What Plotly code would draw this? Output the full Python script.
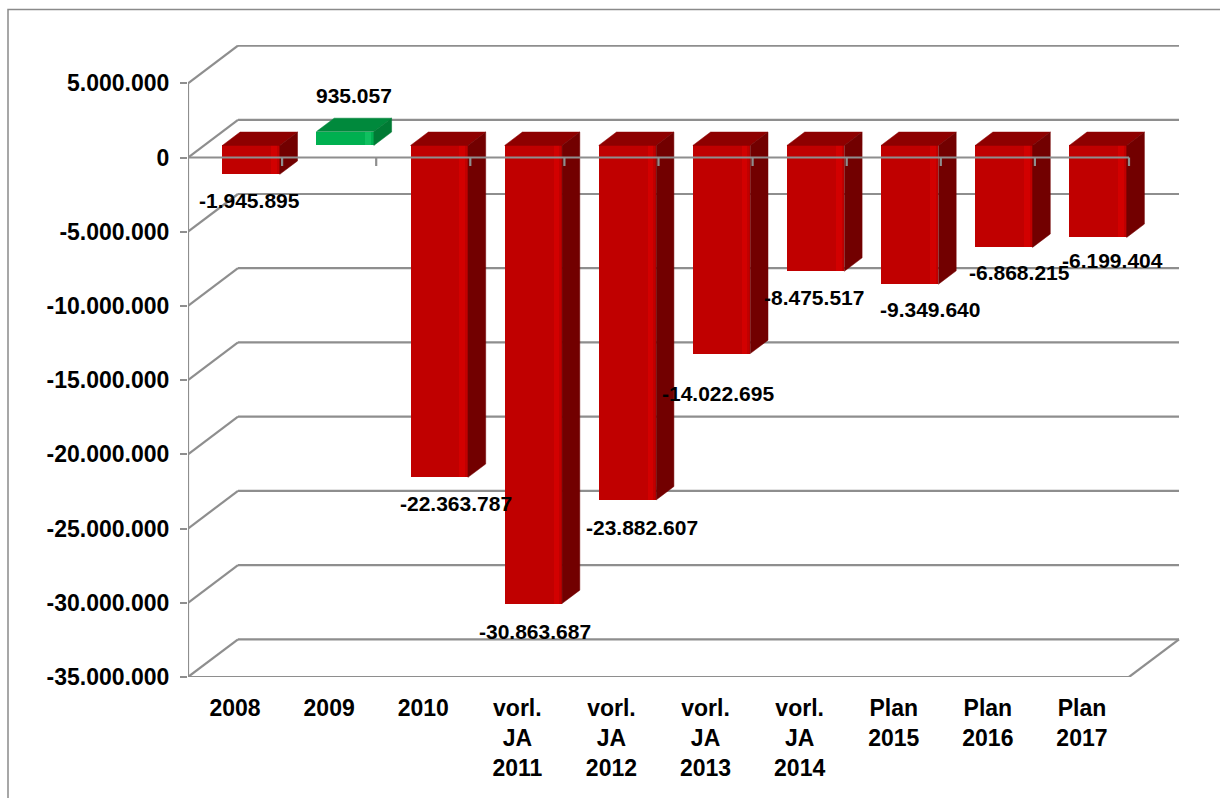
import plotly.graph_objects as go

# ---------------- data ----------------
categories = ["2008", "2009", "2010",
              "vorl.<br>JA<br>2011", "vorl.<br>JA<br>2012",
              "vorl.<br>JA<br>2013", "vorl.<br>JA<br>2014",
              "Plan<br>2015", "Plan<br>2016", "Plan<br>2017"]
values = [-1945895, 935057, -22363787, -30863687, -23882607,
          -14022695, -8475517, -9349640, -6868215, -6199404]
y_ticks = [5000000, 0, -5000000, -10000000, -15000000, -20000000,
           -25000000, -30000000, -35000000]

# label nudges in pixels (dx, dy down)
label_nudge = [(-2, 26), (9, -36), (17, 26), (2, 28), (15, 28),
               (-4, 40), (-2, 26), (20, 25), (16, 25), (15, 23)]


def de(v):
    return f"{v:,}".replace(",", ".")


# ---------------- geometry of the oblique 3D look ----------------
n = len(categories)
PX_PER_M = 14.835            # pixels per 1.000.000 on the y scale
DEPTH_PX = (50, 37.7)         # wall depth offset in pixels
XMAX = 10.542
YMIN, YMAX = -35e6, 7.58e6
DX = DEPTH_PX[0] / (992 / XMAX)
DY = DEPTH_PX[1] / PX_PER_M * 1e6
Z0, Z1 = 0.32, 0.675          # bar depth span (fraction of wall depth)
W = 0.61                      # bar width (category units)

GRID = "#8e8e8e"
RED_FRONT, RED_HI, RED_TOP, RED_SIDE = "#C00000", "#D20000", "#8E0000", "#720000"
GRN_FRONT, GRN_HI, GRN_TOP, GRN_SIDE = "#00B050", "#10C060", "#00893C", "#007A34"
FONT = "Liberation Sans, Arial, sans-serif"

fig = go.Figure()

# front faces (bars)
xs_front = [i + 0.5 + Z0 * DX for i in range(n)]
fig.add_trace(go.Bar(
    x=xs_front, y=values, base=[Z0 * DY] * n, width=W,
    marker=dict(color=[RED_FRONT if v < 0 else GRN_FRONT for v in values],
                line=dict(width=0)),
    hoverinfo="skip", showlegend=False))
# subtle highlight strip near the right edge of each front face
HI_W = 0.06
fig.add_trace(go.Bar(
    x=[x + W / 2 - HI_W / 2 - 0.03 for x in xs_front], y=values,
    base=[Z0 * DY] * n, width=HI_W,
    marker=dict(color=[RED_HI if v < 0 else GRN_HI for v in values],
                line=dict(width=0)),
    hoverinfo="skip", showlegend=False))

# top and side faces
for i, v in enumerate(values):
    c = i + 0.5
    xl, xr = c - W / 2, c + W / 2
    top, bot = max(v, 0), min(v, 0)
    ctop = RED_TOP if v < 0 else GRN_TOP
    cside = RED_SIDE if v < 0 else GRN_SIDE
    fig.add_trace(go.Scatter(
        x=[xl + Z0 * DX, xr + Z0 * DX, xr + Z1 * DX, xl + Z1 * DX, xl + Z0 * DX],
        y=[top + Z0 * DY, top + Z0 * DY, top + Z1 * DY, top + Z1 * DY, top + Z0 * DY],
        fill="toself", fillcolor=ctop, mode="lines",
        line=dict(color=ctop, width=0.5), hoverinfo="skip", showlegend=False))
    fig.add_trace(go.Scatter(
        x=[xr + Z0 * DX, xr + Z1 * DX, xr + Z1 * DX, xr + Z0 * DX, xr + Z0 * DX],
        y=[top + Z0 * DY, top + Z1 * DY, bot + Z1 * DY, bot + Z0 * DY, top + Z0 * DY],
        fill="toself", fillcolor=cside, mode="lines",
        line=dict(color=cside, width=0.5), hoverinfo="skip", showlegend=False))

# front zero line with category ticks (drawn over the bars)
tick_len = 8.5 / PX_PER_M * 1e6
zx, zy = [0, n], [0, 0]
for k in range(1, n + 1):
    zx += [None, k, k]
    zy += [None, 0, -tick_len]
fig.add_trace(go.Scatter(x=zx, y=zy, mode="lines",
                         line=dict(color=GRID, width=2.2),
                         hoverinfo="skip", showlegend=False))

# walls / grid as shapes below the traces
shapes = []
for t in y_ticks:
    shapes.append(dict(type="line", xref="x", yref="y", layer="below",
                       x0=DX, x1=n + DX, y0=t + DY, y1=t + DY,
                       line=dict(color=GRID, width=2.2)))
    shapes.append(dict(type="line", xref="x", yref="y", layer="below",
                       x0=0, x1=DX, y0=t, y1=t + DY,
                       line=dict(color=GRID, width=2.2)))
ymin_t, ymax_t = min(y_ticks), max(y_ticks)
shapes.append(dict(type="line", xref="x", yref="y", layer="below",
                   x0=0, x1=n, y0=ymin_t, y1=ymin_t,
                   line=dict(color=GRID, width=2.2)))
shapes.append(dict(type="line", xref="x", yref="y", layer="below",
                   x0=n, x1=n + DX, y0=ymin_t, y1=ymin_t + DY,
                   line=dict(color=GRID, width=2.2)))
shapes.append(dict(type="line", xref="x", yref="y", layer="below",
                   x0=0, x1=0, y0=ymin_t, y1=ymax_t,
                   line=dict(color=GRID, width=2.2)))
# outer frame
shapes.append(dict(type="rect", xref="paper", yref="paper", layer="below",
                   x0=(8 - 188) / 992, x1=(1230 - 188) / 992,
                   y0=(677 - 810) / 632, y1=(677 - 9.5) / 632,
                   line=dict(color="#8a8a8a", width=1.5)))

# data labels
annotations = []
for i, v in enumerate(values):
    ax = i + 0.5 + Z0 * DX
    ay = v + Z0 * DY
    dxp, dyp = label_nudge[i]
    annotations.append(dict(
        x=ax, y=ay, xref="x", yref="y", text=de(v), showarrow=False,
        xanchor="center", yanchor="middle", xshift=dxp, yshift=-dyp,
        font=dict(family=FONT, size=21, color="black", weight="bold")))

fig.update_layout(
    width=1220, height=798,
    margin=dict(l=188, r=40, t=45, b=121),
    paper_bgcolor="white", plot_bgcolor="white",
    barmode="overlay", bargap=0,
    shapes=shapes, annotations=annotations,
    showlegend=False,
    xaxis=dict(range=[0, XMAX], showgrid=False, zeroline=False, showline=False,
               tickmode="array", tickvals=[i + 0.5 for i in range(n)],
               ticktext=categories, ticks="", ticklabelstandoff=15,
               tickfont=dict(family=FONT, size=23, color="black", weight="bold")),
    yaxis=dict(range=[YMIN, YMAX], showgrid=False, zeroline=False, showline=False,
               tickmode="array", tickvals=y_ticks,
               ticktext=[de(t) for t in y_ticks],
               ticks="outside", ticklen=7, tickwidth=2, tickcolor=GRID,
               ticklabelstandoff=6,
               tickfont=dict(family=FONT, size=23, color="black", weight="bold")),
)

fig.write_html("out.html")
